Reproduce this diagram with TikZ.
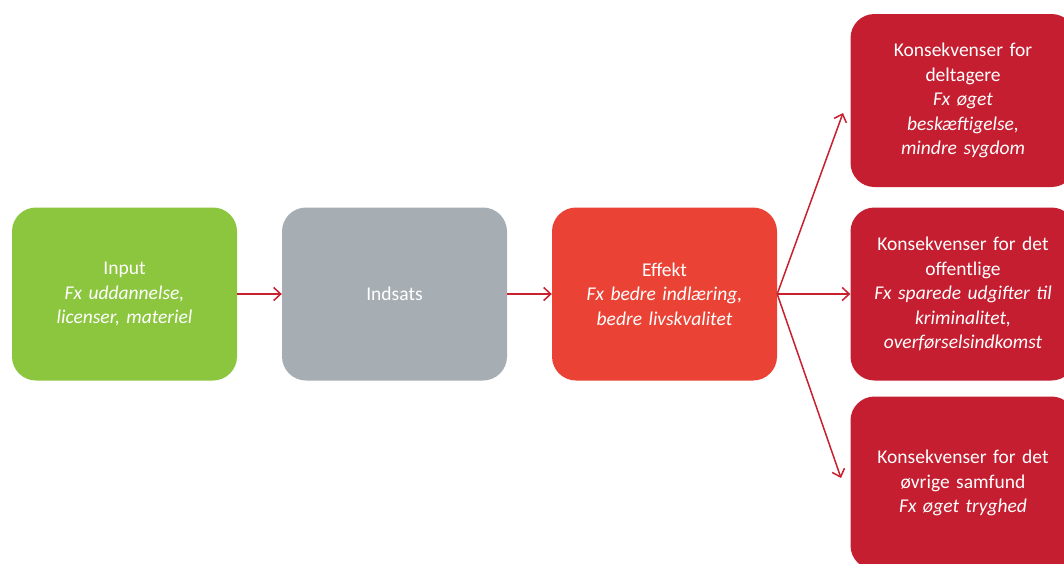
\documentclass[tikz,border=0pt]{standalone}
\usepackage{fontspec}
\setmainfont{Carlito}
\usetikzlibrary{arrows.meta}
\definecolor{cgreen}{HTML}{8CC63F}
\definecolor{cgray}{HTML}{A7AEB3}
\definecolor{cred}{HTML}{EA4335}
\definecolor{cdark}{HTML}{C41E30}
\definecolor{carrow}{HTML}{C8202F}
\begin{document}
\begin{tikzpicture}[x=1pt,y=-1pt,
  box/.style={rounded corners=24pt, minimum width=225pt, minimum height=173pt,
    text width=220pt, align=center, text=white, inner sep=0pt,
    font=\fontsize{19.5}{24.5}\selectfont},
  conn/.style={carrow, line width=1.5pt, -{Straight Barb[length=7pt,width=13pt]}}]
\clip (0,0) rectangle (1064,563);
\fill[white] (0,0) rectangle (1064,563);
\node[box, fill=cgreen] (inp) at (124.5,294) {Input\\\textit{Fx uddannelse,}\\\textit{licenser, materiel}};
\node[box, fill=cgray] (ind) at (394.5,294) {Indsats};
\node[box, fill=cred] (eff) at (664.5,294) {Effekt\\\textit{Fx bedre indlæring,}\\\textit{bedre livskvalitet}};
\node[box, fill=cdark] (k1) at (963,100.5) {Konsekvenser for\\deltagere\\\textit{Fx øget}\\\textit{beskæftigelse,}\\\textit{mindre sygdom}};
\node[box, fill=cdark] (k2) at (963,294) {Konsekvenser for det\\offentlige\\\textit{Fx sparede udgifter til}\\\textit{kriminalitet,}\\\textit{overførselsindkomst}};
\node[box, fill=cdark] (k3) at (963,483) {Konsekvenser for det\\øvrige samfund\\\textit{Fx øget tryghed}};
\coordinate (t1) at (843,113);
\coordinate (t3) at (841,478);
\draw[conn] (inp.east) -- (ind.west);
\draw[conn] (ind.east) -- (eff.west);
\draw[conn] (eff.east) -- (t1);
\draw[conn] (eff.east) -- (k2.west);
\draw[conn] (eff.east) -- (t3);
\end{tikzpicture}
\end{document}
